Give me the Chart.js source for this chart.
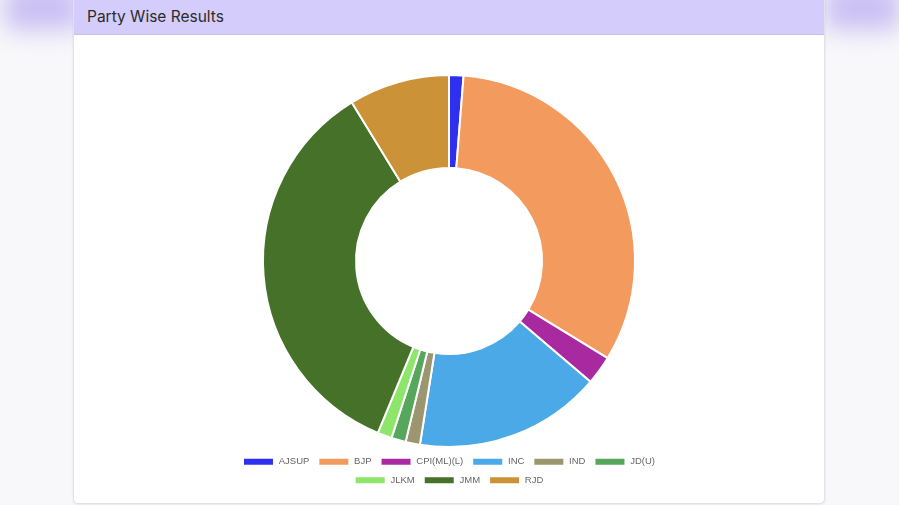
<!DOCTYPE html>
<html>
<head>
<meta charset="utf-8">
<script src="https://cdn.jsdelivr.net/npm/chart.js@4.4.1/dist/chart.umd.min.js"></script>
<style>
  html, body { margin: 0; padding: 0; }
  body {
    width: 899px; height: 505px; overflow: hidden; position: relative;
    background: #f8f8fa; font-family: "Inter", "Open Sans", sans-serif;
  }
  .blur { position: absolute; background: #c9bff3; filter: blur(12px); }
  .card {
    position: absolute; left: 73px; top: -4px; width: 750px; height: 506px;
    background: #fff; border: 1px solid #e2e2e6; border-radius: 5px;
    box-shadow: 0 1px 3px rgba(0,0,0,0.08); overflow: hidden;
  }
  .card-header {
    height: 38px; background: #d4cdfb; border-bottom: 1px solid #c6bdf0;
    box-sizing: border-box; padding: 10px 0 0 13px;
    font-size: 15.5px; color: #2b2b2b;
  }
  /* narrow box so the legend wraps onto two rows */
  .chart-box { position: absolute; left: 140px; top: 77px; width: 470px; height: 421px; }
</style>
</head>
<body>
<div class="blur" style="left:5px; top:-15px; width:75px; height:45px;"></div>
<div class="blur" style="left:825px; top:-15px; width:75px; height:45px;"></div>
<div class="card">
  <div class="card-header">Party Wise Results</div>
  <div class="chart-box"><canvas id="partyChart"></canvas></div>
</div>
<script>
// party names as shown in the legend
const parties = ['AJSUP', 'BJP', 'CPI(ML)(L)', 'INC', 'IND', 'JD(U)', 'JLKM', 'JMM', 'RJD'];
// seats per party
const seats = [1, 26, 2, 13, 1, 1, 1, 28, 7];
// slice colours
const partyColors = ['#2f2ff0', '#f39a5e', '#a92aa0', '#4ca9e8', '#9b9670', '#56a75b', '#8de56a', '#457128', '#cc9238'];

const ctx = document.getElementById('partyChart').getContext('2d');
new Chart(ctx, {
  type: 'doughnut',
  data: {
    labels: parties,
    datasets: [{
      data: seats,
      backgroundColor: partyColors,
      borderColor: '#fff',
      borderWidth: 2,
    }],
  },
  options: {
    responsive: true,
    maintainAspectRatio: false,
    animation: false,
    cutout: '50%',
    plugins: {
      legend: {
        position: 'bottom',
        labels: {
          boxWidth: 31,
          boxHeight: 8,
          padding: 9,
          color: '#666',
          font: { family: 'Liberation Sans, Arial, sans-serif', size: 9.5 },
        },
      },
      tooltip: { enabled: false },
    },
  },
});
</script>
</body>
</html>
